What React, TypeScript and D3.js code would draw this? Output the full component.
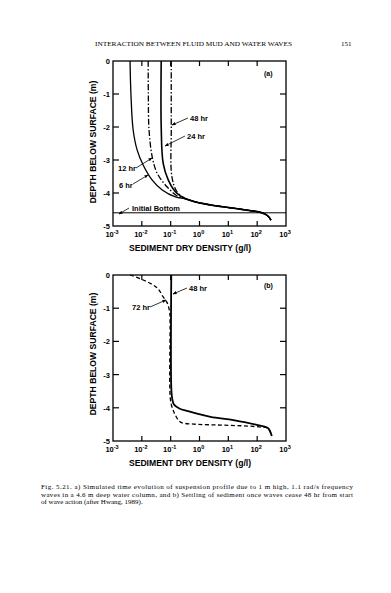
import React from 'react'
import * as d3 from 'd3'

const W = 391
const H = 593

const depthTicks = [0, -1, -2, -3, -4, -5]
const decadeExps = [-3, -2, -1, 0, 1, 2, 3]
const initialBottom = -4.6

// panel (a): shared bottom tail where all profiles merge
const tailDensity = [0.34, 1.0, 3.8, 12.6, 43, 123, 190, 250, 300]
const tailDepth = [-4.18, -4.3, -4.39, -4.45, -4.52, -4.58, -4.64, -4.72, -4.82]

const hr6Density = [0.0039, 0.0042, 0.005, 0.0069, 0.0111, 0.023, 0.051, 0.146]
const hr6Depth = [0, -1.03, -2.09, -2.7, -3.15, -3.61, -3.91, -4.12]

const hr12Density = [0.0166, 0.0168, 0.0178, 0.023, 0.034, 0.076, 0.19]
const hr12Depth = [0, -1.0, -2.1, -2.91, -3.4, -3.82, -4.12]

const hr24Density = [0.047, 0.047, 0.055, 0.083, 0.16]
const hr24Depth = [0, -2.0, -3.1, -3.61, -4.0]

const hr48Density = [0.105, 0.105, 0.11, 0.16, 0.26]
const hr48Depth = [0, -2.0, -3.5, -3.94, -4.12]

// panel (b): settling after waves cease
const set48Density = [0.105, 0.105, 0.112, 0.13, 0.2, 0.4, 2.4, 15, 105, 235, 320]
const set48Depth = [0, -3.4, -3.7, -3.9, -4.02, -4.1, -4.27, -4.37, -4.52, -4.61, -4.85]

const set72Density = [0.0039, 0.0112, 0.034, 0.055, 0.076, 0.092, 0.095, 0.095, 0.105, 0.125, 0.145, 0.22, 0.62, 5.4, 47, 135, 235, 320]
const set72Depth = [0, -0.15, -0.39, -0.66, -0.84, -1.11, -1.3, -3.6, -3.9, -4.1, -4.22, -4.43, -4.49, -4.52, -4.55, -4.58, -4.61, -4.85]

const zip = (xs: number[], ys: number[]) => xs.map((x, i) => [x, ys[i]] as [number, number])

type Curve = { pts: [number, number][]; dash?: string; width?: number }
type Note = { text: string; tx: number; ty: number; from: [number, number]; to: [number, number] }

const DASHDOT = '6,2,1.5,2'

const curvesA: Curve[] = [
  { pts: [...zip(hr6Density, hr6Depth), ...zip(tailDensity, tailDepth)] },
  { pts: [...zip(hr12Density, hr12Depth), ...zip(tailDensity, tailDepth)], dash: DASHDOT },
  { pts: [...zip(hr24Density, hr24Depth), ...zip(tailDensity, tailDepth)], width: 1.6 },
  { pts: [...zip(hr48Density, hr48Depth), ...zip(tailDensity, tailDepth)], dash: DASHDOT },
]

const curvesB: Curve[] = [
  { pts: zip(set48Density, set48Depth), width: 1.8 },
  { pts: zip(set72Density, set72Depth), dash: '4,2.5' },
]

const notesA: Note[] = [
  { text: '48 hr', tx: 190, ty: 121, from: [188, 118], to: [172, 125] },
  { text: '24 hr', tx: 187, ty: 139, from: [185, 136], to: [165, 146] },
  { text: '12 hr', tx: 118, ty: 171, from: [136, 168], to: [152, 158] },
  { text: '6 hr', tx: 119, ty: 188, from: [133, 184], to: [148, 175] },
  { text: 'Initial Bottom', tx: 132, ty: 211, from: [129, 208], to: [119, 214] },
]

const notesB: Note[] = [
  { text: '48 hr', tx: 189, ty: 291, from: [187, 288], to: [173, 294] },
  { text: '72 hr', tx: 132, ty: 310, from: [150, 307], to: [166, 300] },
]

const Panel = ({ top, bottom, curves, notes, label, labelY, showBottomLine }: {
  top: number; bottom: number; curves: Curve[]; notes: Note[]; label: string; labelY: number; showBottomLine?: boolean
}) => {
  const left = 113
  const right = 286
  const x = d3.scaleLog().domain([1e-3, 1e3]).range([left, right])
  const y = d3.scaleLinear().domain([0, -5]).range([top, bottom])
  const line = d3
    .line<[number, number]>()
    .x((d) => x(d[0]))
    .y((d) => y(d[1]))
    .curve(d3.curveCatmullRom.alpha(0.5))
  const font = '"Liberation Sans", Arial, sans-serif'
  return (
    <g fontFamily={font} fontWeight="bold" fill="#000">
      <rect x={left} y={top} width={right - left} height={bottom - top} fill="none" stroke="#000" strokeWidth={1.3} />
      {depthTicks.slice(1, -1).map((t) => (
        <g key={'yt' + t}>
          <line x1={left} x2={left + 6} y1={y(t)} y2={y(t)} stroke="#000" strokeWidth={1.2} />
          <line x1={right - 6} x2={right} y1={y(t)} y2={y(t)} stroke="#000" strokeWidth={1.2} />
        </g>
      ))}
      {depthTicks.map((t) => (
        <text key={'yl' + t} x={110} y={y(t) + 3} fontSize={7.5} textAnchor="end">{t}</text>
      ))}
      {decadeExps.slice(1, -1).map((e) => (
        <g key={'xt' + e}>
          <line x1={x(10 ** e)} x2={x(10 ** e)} y1={top} y2={top + 5} stroke="#000" strokeWidth={1.2} />
          <line x1={x(10 ** e)} x2={x(10 ** e)} y1={bottom} y2={bottom - 5} stroke="#000" strokeWidth={1.2} />
        </g>
      ))}
      {decadeExps.map((e) => (
        <text key={'xl' + e} x={x(10 ** e) - 1} y={bottom + 11} fontSize={7.5} textAnchor="middle">
          10<tspan dy={-3.5} fontSize={5.5}>{e}</tspan>
        </text>
      ))}
      <text x={190} y={bottom + 25} fontSize={8.6} textAnchor="middle">SEDIMENT DRY DENSITY (g/l)</text>
      <text transform={`translate(96,${labelY}) rotate(-90)`} fontSize={8.6} textAnchor="middle">DEPTH BELOW SURFACE (m)</text>
      {showBottomLine && (
        <line x1={left} x2={right} y1={y(initialBottom)} y2={y(initialBottom)} stroke="#000" strokeWidth={1} />
      )}
      {curves.map((c, i) => (
        <path key={'c' + i} d={line(c.pts) ?? ''} fill="none" stroke="#000" strokeWidth={c.width ?? 1.3} strokeDasharray={c.dash} />
      ))}
      {notes.map((n, i) => (
        <g key={'n' + i}>
          <line x1={n.from[0]} y1={n.from[1]} x2={n.to[0]} y2={n.to[1]} stroke="#000" strokeWidth={0.8} markerEnd="url(#arrow)" />
          <text x={n.tx} y={n.ty} fontSize={7.5}>{n.text}</text>
        </g>
      ))}
      <text x={264} y={labelY - 66} fontSize={7}>{label}</text>
    </g>
  )
}

const captionLines = [
  'Fig. 5.21.   a) Simulated time evolution of suspension profile due to 1 m high, 1.1 rad/s frequency',
  'waves in a 4.6 m deep water column, and b) Settling of sediment once waves cease 48 hr from start',
  'of wave action (after Hwang, 1989).',
]

const App = () => {
  const serif = '"Liberation Serif", "Times New Roman", serif'
  return (
    <svg width={W} height={H} style={{ position: 'absolute', left: 0, top: 0, background: '#fff' }}>
      <defs>
        <marker id="arrow" viewBox="0 0 10 10" refX={9} refY={5} markerWidth={5} markerHeight={5} orient="auto">
          <path d="M0,1 L10,5 L0,9 z" fill="#000" />
        </marker>
      </defs>
      <rect width={W} height={H} fill="#fff" />
      <text x={95} y={46} fontFamily={serif} fontSize={7} textLength={197} lengthAdjust="spacingAndGlyphs">
        INTERACTION BETWEEN FLUID MUD AND WATER WAVES
      </text>
      <text x={341} y={46} fontFamily={serif} fontSize={7}>151</text>
      <Panel top={61} bottom={226} curves={curvesA} notes={notesA} label="(a)" labelY={142} showBottomLine />
      <Panel top={275} bottom={441} curves={curvesB} notes={notesB} label="(b)" labelY={354} />
      {captionLines.map((t, i) => (
        <text key={i} x={41} y={489 + i * 7.5} fontFamily={serif} fontSize={7}
          textLength={i < 2 ? 312 : undefined} lengthAdjust="spacing">
          {t}
        </text>
      ))}
    </svg>
  )
}

export default App
